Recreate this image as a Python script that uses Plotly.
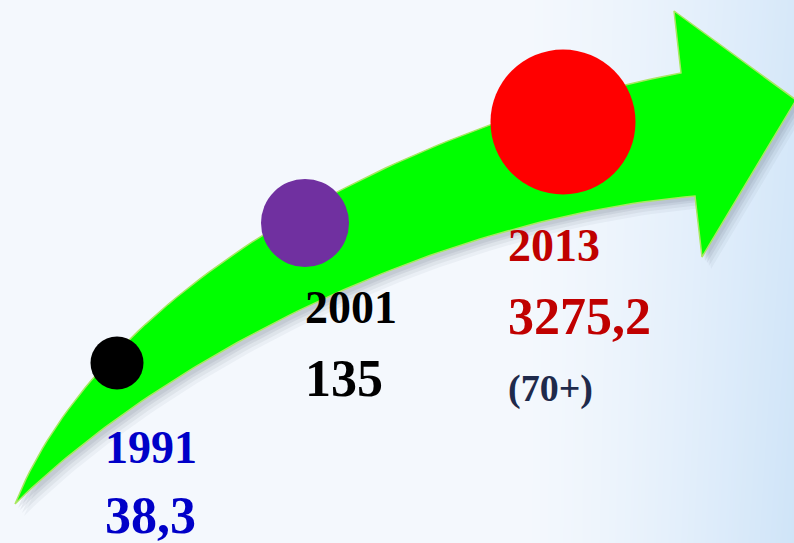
import numpy as np
import plotly.graph_objects as go

# ---- data ----
years = ["1991", "2001", "2013"]
values = ["38,3", "135", "3275,2"]
note_2013 = "(70+)"
marker_colors = ["#000000", "#7030a0", "#ff0000"]
text_colors = ["#0000c8", "#000000", "#c00000"]
note_color = "#1f2a4b"

W, H = 794, 543

fig = go.Figure()

# ---- background gradient ----
gx = np.linspace(0, W, 60)
gy = np.linspace(0, H, 40)
X, Y = np.meshgrid(gx, gy)
T = np.clip((X - 520) / 274, 0, 1) ** 1.4 * (0.8 + 0.2 * Y / H)
fig.add_trace(go.Heatmap(x=gx, y=gy, z=T, zmin=0, zmax=1, zsmooth="best",
                         colorscale=[[0, "#f4f8fd"], [1, "#cfe4f8"]],
                         showscale=False, hoverinfo="skip"))


def bez(p0, p1, p2, p3, n=80):
    t = np.linspace(0, 1, n)[:, None]
    p0, p1, p2, p3 = map(np.array, (p0, p1, p2, p3))
    return ((1 - t) ** 3) * p0 + 3 * ((1 - t) ** 2) * t * p1 + 3 * (1 - t) * t ** 2 * p2 + t ** 3 * p3


upper = bez((15, 504), (100, 290), (400, 125), (681, 73))
head = np.array([(674, 11), (796, 100), (702, 257), (695, 196)])
lower = bez((695, 196), (420, 220), (150, 370), (15, 504))
arrow = np.vstack([upper, head, lower])

# ---- shadow ----
for dx, dy, op in [(9, 12, 0.06), (7, 9, 0.08), (5, 6, 0.10), (3, 4, 0.10)]:
    fig.add_trace(go.Scatter(x=arrow[:, 0] + dx, y=arrow[:, 1] + dy, mode="lines",
                             fill="toself", fillcolor=f"rgba(90,100,115,{op})",
                             line=dict(width=0), hoverinfo="skip", showlegend=False))

# ---- arrow ----
fig.add_trace(go.Scatter(x=arrow[:, 0], y=arrow[:, 1], mode="lines", fill="toself",
                         fillcolor="#00ff00", line=dict(color="#a8e860", width=1.5),
                         hoverinfo="skip", showlegend=False))

# ---- circles ----
cx = [117, 305, 563]
cy = [363, 223, 122]
csize = [53, 88, 145]
fig.add_trace(go.Scatter(x=cx, y=cy, mode="markers",
                         marker=dict(size=csize, color=marker_colors, opacity=1,
                                     line=dict(width=0)),
                         hoverinfo="skip", showlegend=False))

# ---- labels ----
font_family = "Liberation Serif, Times New Roman, serif"
lx = [103, 303, 506]
ly_year = [447, 307, 245]
ly_val = [515, 378, 316]
for i in range(3):
    fig.add_annotation(x=lx[i], y=ly_year[i], text=f"<b>{years[i]}</b>", showarrow=False,
                       xanchor="left", yanchor="middle",
                       font=dict(family=font_family, size=46, color=text_colors[i]))
    fig.add_annotation(x=lx[i], y=ly_val[i], text=f"<b>{values[i]}</b>", showarrow=False,
                       xanchor="left", yanchor="middle",
                       font=dict(family=font_family, size=52, color=text_colors[i]))
fig.add_annotation(x=lx[2], y=388, text=f"<b>{note_2013}</b>", showarrow=False,
                   xanchor="left", yanchor="middle",
                   font=dict(family=font_family, size=38, color=note_color))

fig.update_layout(
    width=W, height=H, margin=dict(l=0, r=0, t=0, b=0),
    paper_bgcolor="#f4f8fd", plot_bgcolor="#f4f8fd", showlegend=False,
    xaxis=dict(range=[0, W], visible=False, fixedrange=True),
    yaxis=dict(range=[H, 0], visible=False, fixedrange=True),
)

fig.write_html("out.html", config={"displayModeBar": False},
               post_script="document.body.style.margin='0';document.body.style.overflow='hidden';")
